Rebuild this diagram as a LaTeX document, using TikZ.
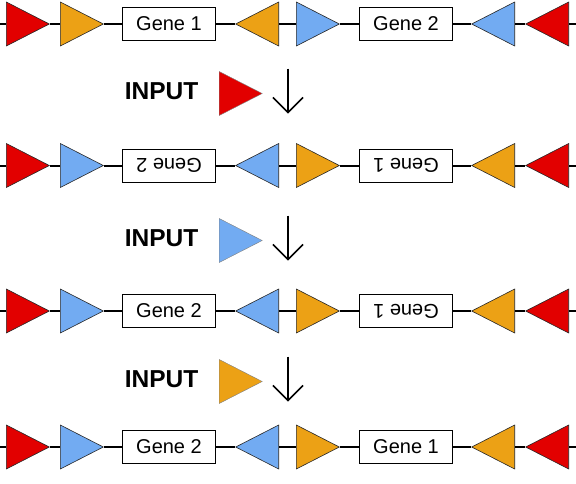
\documentclass[tikz,border=0pt]{standalone}
\usepackage{fontspec}
\setmainfont{Liberation Sans}
\usetikzlibrary{shapes.geometric,arrows.meta}

\definecolor{redc}{HTML}{E20000}
\definecolor{orangec}{HTML}{ECA115}
\definecolor{bluec}{HTML}{72ABF2}

\begin{document}
\begin{tikzpicture}[
x=1pt,y=-1pt,
site/.style={
  isosceles triangle,
  isosceles triangle stretches,
  draw=black!85,
  line width=0.6pt,
  minimum width=44pt,
  minimum height=43pt,
  inner sep=0pt,
  anchor=lower side
  },
fwd/.style={shape border rotate=0},
rev/.style={shape border rotate=180},
redsite/.style={site,fill=redc},
orangesite/.style={site,fill=orangec},
bluesite/.style={site,fill=bluec},
gene/.style={
  draw,
  fill=white,
  line width=0.6pt,
  minimum width=93pt,
  minimum height=33pt,
  inner sep=0pt,
  font=\fontsize{20}{20}\selectfont
  },
dna/.style={line width=2pt},
label/.style={font=\bfseries\fontsize{24.5}{24.5}\selectfont},
>={Straight Barb[length=15pt,width=30pt]}
]
\useasboundingbox (0,0) rectangle (576,483);

% the four constructs
\foreach \r/\y/\ca/\cb/\ga/\gb/\ra/\rb in {
  1/24/orangesite/bluesite/Gene 1/Gene 2/0/0,
  2/165.5/bluesite/orangesite/Gene 2/Gene 1/180/180,
  3/311/bluesite/orangesite/Gene 2/Gene 1/0/180,
  4/447/bluesite/orangesite/Gene 2/Gene 1/0/0}
{
  \coordinate (l\r) at (0,\y);
  \coordinate (e\r) at (576,\y);
  \node[redsite,fwd] (s\r-1) at (6,\y) {};
  \node[\ca,fwd] (s\r-2) at (60,\y) {};
  \node[gene,rotate=\ra] (g\r-1) at (169,\y) {\ga};
  \node[\ca,rev] (s\r-3) at (279,\y) {};
  \node[\cb,fwd] (s\r-4) at (296,\y) {};
  \node[gene,rotate=\rb] (g\r-2) at (406,\y) {\gb};
  \node[\cb,rev] (s\r-5) at (515,\y) {};
  \node[redsite,rev] (s\r-6) at (569,\y) {};
  \draw[dna] (l\r) -- (s\r-1) -- (s\r-2) -- (g\r-1) -- (s\r-3)
    -- (s\r-4) -- (g\r-2) -- (s\r-5) -- (s\r-6) -- (e\r);
}

% input steps
\foreach \y/\c [count=\i] in {93.5/redsite,240.5/bluesite,381.5/orangesite}
{
  \node[label] (in\i) at (161.5,\y-2) {INPUT};
  \node[\c,fwd,draw=black!50,line width=0.4pt] (t\i) at (219,\y) {};
  \coordinate (a\i) at (288,\y-25);
  \coordinate (b\i) at (288,\y+20);
  \draw[->,line width=1.5pt] (a\i) -- (b\i);
}
\end{tikzpicture}
\end{document}
